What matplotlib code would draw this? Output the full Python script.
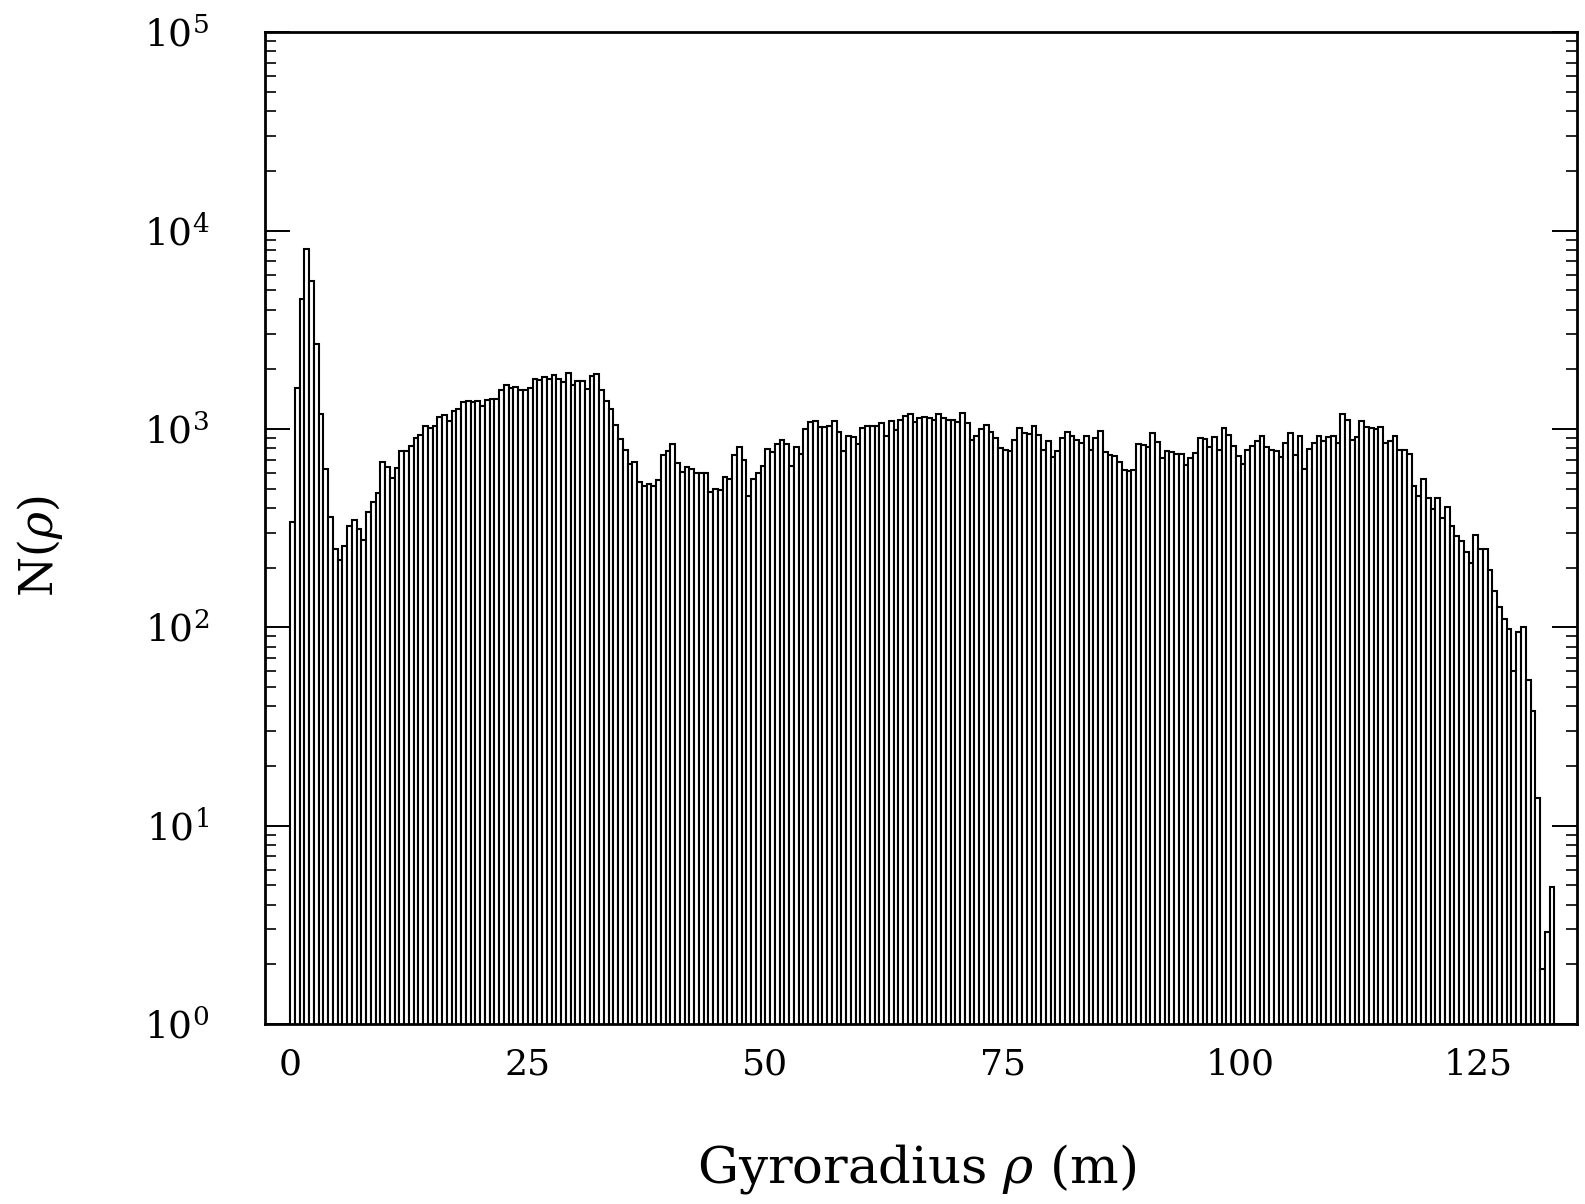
import numpy as np
import matplotlib
matplotlib.use("Agg")
import matplotlib.pyplot as plt
from matplotlib import ticker

# gyroradius histogram, 0.5 m bins starting at 0
bin_width = 0.5

# rho 0 - 34 m
counts_a = [338, 1610, 4530, 8100, 5560, 2670, 1190, 629, 360, 248,
            219, 256, 326, 349, 313, 275, 380, 427, 476, 682,
            644, 567, 639, 775, 775, 818, 898, 934, 1040, 1012,
            1040, 1152, 1178, 1093, 1230, 1263, 1364, 1380, 1370, 1380,
            1302, 1396, 1418, 1418, 1581, 1657, 1606, 1630, 1570, 1570,
            1606, 1790, 1760, 1833, 1790, 1867, 1790, 1720, 1919, 1657,
            1742, 1742, 1590, 1845, 1890, 1570, 1380, 1263]
# rho 34 - 68.5 m
counts_b = [1052, 891, 781, 667, 682, 538, 514, 530, 518, 555,
            740, 775, 837, 675, 605, 641, 631, 600, 600, 600,
            480, 499, 495, 571, 560, 737, 812, 695, 458, 562,
            600, 648, 794, 769, 837, 877, 844, 654, 812, 752,
            1000, 1081, 1098, 1025, 1025, 1032, 1102, 962, 778, 918,
            908, 844, 1017, 1032, 1040, 1040, 1074, 926, 1102, 993,
            1107, 1159, 1191, 1081, 1137, 1148, 1137, 1107, 1195]
# rho 68.5 - 93.5 m
counts_c = [1137, 1115, 1107, 1082, 1205, 1074, 877, 926, 1000, 1052,
            962, 902, 803, 787, 775, 877, 1012, 955, 948, 1040,
            937, 781, 873, 723, 772, 902, 966, 926, 877, 850,
            926, 787, 902, 982, 769, 743, 728, 679, 624, 616,
            624, 844, 834, 812, 955, 864, 715, 772, 763, 750]
# rho 93.5 - 118 m
counts_d = [751, 661, 715, 757, 902, 891, 812, 912, 787, 1012,
            937, 818, 734, 668, 787, 818, 867, 918, 809, 787,
            772, 723, 851, 955, 743, 926, 629, 794, 851, 926,
            867, 912, 926, 851, 1196, 1115, 877, 912, 1094, 1025,
            1012, 1000, 1025, 851, 867, 926, 787, 787, 751]
# rho 118 - 133 m
counts_e = [514, 460, 562, 449, 397, 449, 354, 402,
            323, 290, 271, 240, 211, 293, 248, 248, 195, 152,
            127, 110, 98, 60, 95, 100, 54, 38, 13.8, 1.9, 2.9, 4.9]

counts = np.concatenate([counts_a, counts_b, counts_c, counts_d, counts_e])
rho_left = np.arange(len(counts)) * bin_width

x_ticks = [0, 25, 50, 75, 100, 125]

plt.rcParams['font.family'] = 'DejaVu Serif'
plt.rcParams['mathtext.fontset'] = 'dejavuserif'

fig = plt.figure(figsize=(15.85, 12.04), dpi=100)
ax = fig.add_axes([0.1671, 0.1495, 0.8279, 0.8237])

ax.bar(rho_left, counts, width=bin_width, align='edge',
       color='white', edgecolor='black', linewidth=1.5)

ax.set_yscale('log')
ax.set_ylim(1, 1e5)
ax.set_xlim(-2.66, 135.4)
ax.set_xticks(x_ticks)
ax.yaxis.set_major_locator(ticker.LogLocator(base=10, numticks=10))
ax.yaxis.set_minor_locator(ticker.LogLocator(base=10, subs=np.arange(2, 10), numticks=10))
ax.yaxis.set_major_formatter(ticker.LogFormatterMathtext())

ax.tick_params(axis='x', length=0, pad=17, labelsize=26)
ax.tick_params(axis='y', which='major', direction='in', length=18, width=1.4,
               left=True, right=True, labelsize=27, pad=40)
ax.tick_params(axis='y', which='minor', direction='in', length=8, width=1.2,
               left=True, right=True)
for s in ax.spines.values():
    s.set_linewidth(2)

fig.text(0.578, 0.029, r'Gyroradius $\rho$ (m)', ha='center', va='center', fontsize=37)
fig.text(0.0255, 0.5465, r'N($\rho$)', ha='center', va='center', rotation=90, fontsize=33)

fig.savefig('out.png', dpi=100)
